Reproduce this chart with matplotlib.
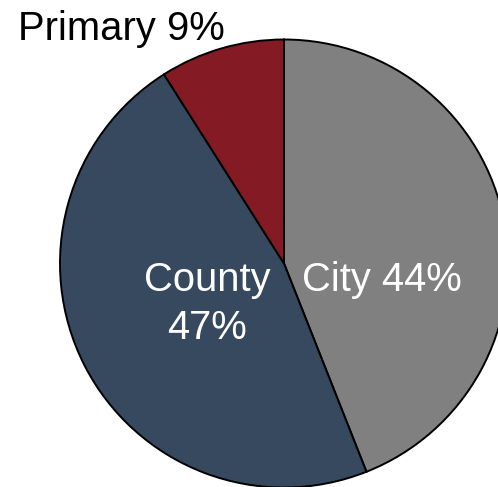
import matplotlib
matplotlib.use("Agg")
import matplotlib.pyplot as plt

# DATA
labels = ["City", "County", "Primary"]
shares = [44, 47, 9]
colors = ["#808080", "#36495E", "#841A24"]

plt.rcParams["font.family"] = ["Liberation Sans", "DejaVu Sans"]

W, H = 498, 487
fig = plt.figure(figsize=(W / 100, H / 100), dpi=100)
ax = fig.add_axes([0, 0, 1, 1])

cx, cy, r = 284, H - 263.5, 224
ax.pie(
    shares,
    colors=colors,
    startangle=90,
    counterclock=False,
    radius=r,
    center=(cx, cy),
    wedgeprops=dict(edgecolor="black", linewidth=1.4),
)
ax.set_xlim(0, W)
ax.set_ylim(0, H)
ax.set_aspect("equal")
ax.axis("off")

fs = 28.8
ax.text(382, H - 291, f"{labels[0]} {shares[0]}%", color="white",
        fontsize=fs, ha="center", va="baseline")
ax.text(207, H - 291, labels[1], color="white",
        fontsize=fs, ha="center", va="baseline")
ax.text(207, H - 339, f"{shares[1]}%", color="white",
        fontsize=fs, ha="center", va="baseline")
ax.text(18, H - 39.5, f"{labels[2]} {shares[2]}%", color="black",
        fontsize=fs, ha="left", va="baseline")

fig.savefig("out.png", dpi=100)
